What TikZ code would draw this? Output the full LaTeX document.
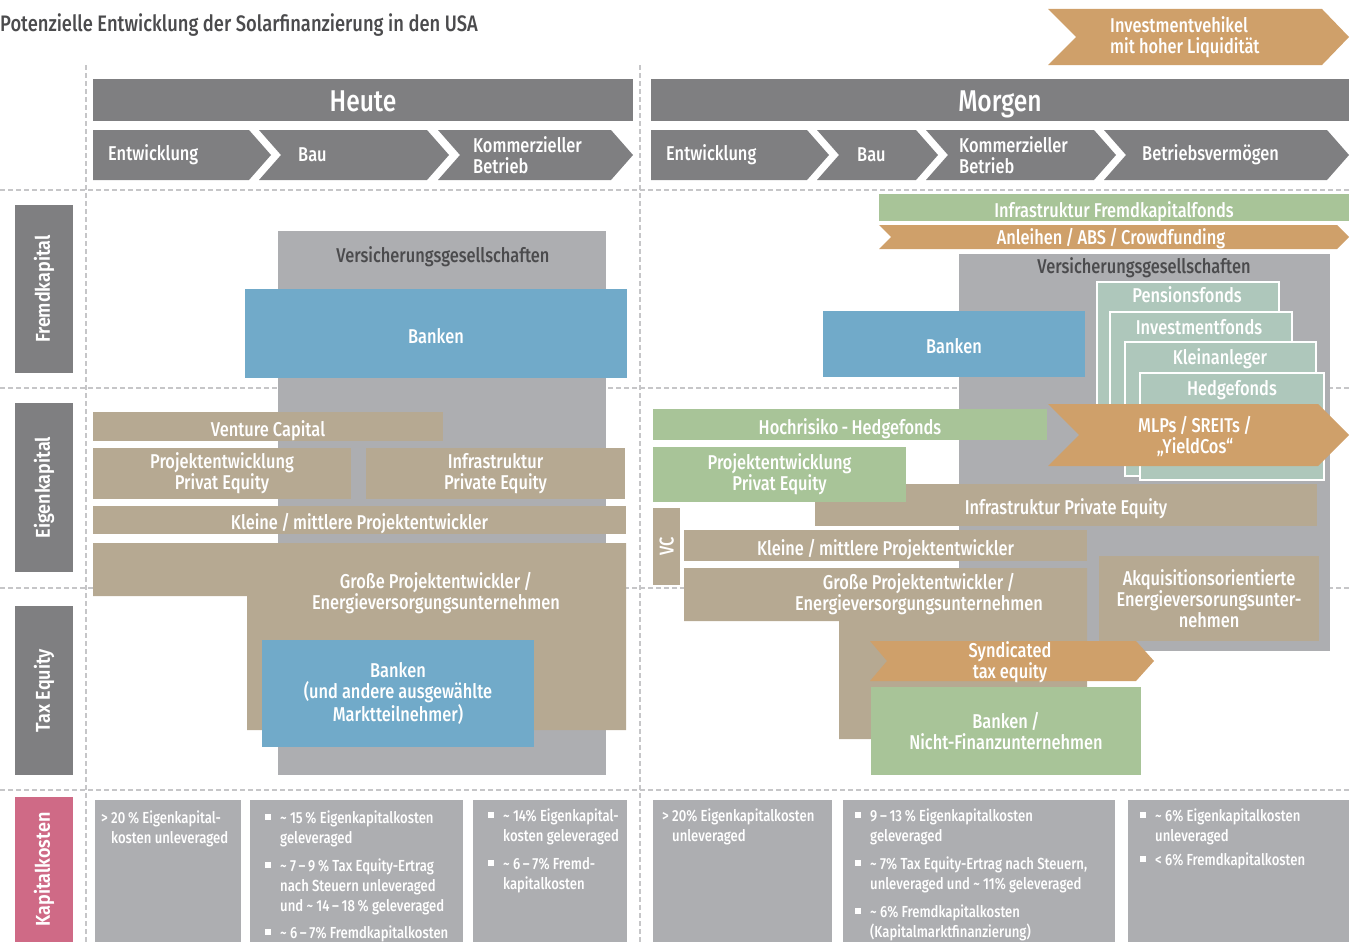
\documentclass[tikz,border=0pt]{standalone}
\usepackage{fontspec}
\setmainfont{Fira Sans}[FakeStretch=0.82,UprightFont={* Medium},BoldFont={* Bold}]
\newfontfamily\rowfont{Fira Sans}[FakeStretch=0.9,UprightFont={* SemiBold}]
\usepackage{tikz}

\definecolor{dunkelgrau}{HTML}{7F7F81}
\definecolor{hellgrau}{HTML}{ADAEB1}
\definecolor{blau}{HTML}{71AAC9}
\definecolor{sand}{HTML}{B6A992}
\definecolor{gruen}{HTML}{A8C498}
\definecolor{ocker}{HTML}{CFA06A}
\definecolor{mint}{HTML}{AEC7BB}
\definecolor{rosa}{HTML}{CF6A86}
\definecolor{strich}{HTML}{C6C6C8}
\definecolor{schrift}{HTML}{4B4B4D}

% bullets for the cost boxes
\newcommand{\kkbullet}{\makebox[15pt][l]{\rule[3pt]{6pt}{6pt}}}
\newcommand{\kkgt}{\makebox[10pt][l]{>}}
\newcommand{\ca}{\textasciitilde\ }

\begin{document}
\begin{tikzpicture}[x=1pt,y=-1pt]
            % Define styles
            \tikzstyle{boxm} = [anchor=north west,inner sep=0,outer sep=0,align=center,text=white,font=\fontsize{20}{21}\selectfont]
            \tikzstyle{box} = [boxm,text height=19pt,text depth=0pt]
            \tikzstyle{txtm} = [inner sep=0,align=center,text=white,font=\fontsize{20}{21}\selectfont,yshift=-1.5pt]
            \tikzstyle{txt} = [inner sep=0,text=white,font=\fontsize{20}{21}\selectfont,text height=14pt,text depth=0pt]
            \tikzstyle{phasetext} = [anchor=west,inner sep=0,align=left,text=white,font=\fontsize{20}{21}\selectfont]
            \tikzstyle{head} = [box,fill=dunkelgrau,minimum height=42pt,font=\fontsize{30}{30}\selectfont,text height=23pt]
            \tikzstyle{rowlabel} = [rotate=90,fill=dunkelgrau,inner sep=0,minimum height=58pt,text=white,font=\fontsize{20}{22}\rowfont]
            \tikzstyle{stack} = [anchor=north west,inner sep=0,fill=mint,draw=white,line width=2pt]
            \tikzstyle{kktext} = [anchor=north west,inner sep=0,text=white,align=left,font=\fontsize{16}{20}\selectfont]
            \tikzstyle{grid} = [strich,line width=1.2pt,dash pattern=on 5pt off 3pt]
            \useasboundingbox (0,0) rectangle (1356,942);
            % Dashed grid
                \draw [grid] (0,190) -- (1349,190);
                \draw [grid] (0,388) -- (1349,388);
                \draw [grid] (0,588) -- (1349,588);
                \draw [grid] (0,790) -- (1349,790);
                \draw [grid] (86,65) -- (86,942);
                \draw [grid] (640,65) -- (640,942);
            % Title
            \node (titel) at (0,25) [anchor=west,inner sep=0,text=schrift,font=\fontsize{22.4}{24}\selectfont]{Potenzielle Entwicklung der Solarfinanzierung in den USA};
            % Row labels
                \node (fremd) at (44,289) [rowlabel,minimum width=168pt]{Fremdkapital};
                \node (eigen) at (44,487.5) [rowlabel,minimum width=169pt]{Eigenkapital};
                \node (taxeq) at (44,690.5) [rowlabel,minimum width=169pt]{Tax Equity};
                \node (kosten) at (44,869.5) [rowlabel,minimum width=145pt,fill=rosa]{Kapitalkosten};
            % Headers
                \node (heute) at (93,79) [head,minimum width=540pt]{Heute};
                \node (morgen) at (651,79) [head,minimum width=698pt]{Morgen};
            % Phases
                % Heute
                \fill [dunkelgrau] (93,130) -- (249,130) -- (271,155) -- (249,180) -- (93,180) -- cycle;
                \fill [dunkelgrau] (259,130) -- (427,130) -- (449,155) -- (427,180) -- (259,180) -- (281,155) -- cycle;
                \fill [dunkelgrau] (438,130) -- (611,130) -- (633,155) -- (611,180) -- (438,180) -- (460,155) -- cycle;
                \node (hEntw) at (108,155) [phasetext]{Entwicklung};
                \node (hBau) at (298,155) [phasetext]{Bau};
                \node (hKomm) at (473,155) [phasetext]{Kommerzieller\\Betrieb};
                % Morgen
                \fill [dunkelgrau] (651,130) -- (807,130) -- (829,155) -- (807,180) -- (651,180) -- cycle;
                \fill [dunkelgrau] (817,130) -- (916,130) -- (938,155) -- (916,180) -- (817,180) -- (839,155) -- cycle;
                \fill [dunkelgrau] (926,130) -- (1094,130) -- (1116,155) -- (1094,180) -- (926,180) -- (948,155) -- cycle;
                \fill [dunkelgrau] (1104,130) -- (1327,130) -- (1349,155) -- (1327,180) -- (1104,180) -- (1126,155) -- cycle;
                \node (mEntw) at (666,155) [phasetext]{Entwicklung};
                \node (mBau) at (857,155) [phasetext]{Bau};
                \node (mKomm) at (959,155) [phasetext]{Kommerzieller\\Betrieb};
                \node (mBetr) at (1142,155) [phasetext]{Betriebsvermögen};
                % Liquid vehicles
                \fill [ocker] (1048,9) -- (1322,9) -- (1349,37) -- (1322,65) -- (1048,65) -- (1076,37) -- cycle;
                \node (invest) at (1110,37) [phasetext]{Investmentvehikel\\mit hoher Liquidität};
            % Heute
                \node (versH) at (278,231) [box,fill=hellgrau,minimum width=328pt,minimum height=544pt]{};
                \node (versHt) at (443,255) [txt,text=schrift]{Versicherungsgesellschaften};
                \node (bankH) at (245,289) [box,fill=blau,minimum width=382pt,minimum height=89pt]{Banken};
                \node (vcH) at (93,412) [box,fill=sand,minimum width=350pt,minimum height=29pt]{Venture Capital};
                \node (pepH) at (93,448) [boxm,fill=sand,minimum width=258pt,minimum height=51pt]{Projektentwicklung\\Privat Equity};
                \node (infH) at (366,448) [boxm,fill=sand,minimum width=259pt,minimum height=51pt]{Infrastruktur\\Private Equity};
                \node (kleinH) at (93,506) [box,fill=sand,minimum width=533pt,minimum height=28pt]{Kleine\,/\,mittlere Projektentwickler};
                \fill [sand] (93,543) -- (626,543) -- (626,730) -- (247,730) -- (247,596) -- (93,596) -- cycle;
                \node (grossH) at (436,592) [txtm]{Große Projektentwickler\,/\\Energieversorgungsunternehmen};
                \node (bankTE) at (262,640) [boxm,fill=blau,minimum width=272pt,minimum height=107pt]{Banken\\(und andere ausgewählte\\Marktteilnehmer)};
            % Morgen
                \node (versM) at (959,254) [box,fill=hellgrau,minimum width=371pt,minimum height=397pt]{};
                \node (versMt) at (1144,266) [txt,text=schrift]{Versicherungsgesellschaften};
                \node (ifk) at (879,194) [box,fill=gruen,minimum width=470pt,minimum height=27pt]{Infrastruktur Fremdkapitalfonds};
                \fill [ocker] (879,225) -- (1337,225) -- (1349,237) -- (1337,249) -- (879,249) -- (891,237) -- cycle;
                \node (anl) at (1111,237) [txt]{Anleihen\,/\,ABS\,/\,Crowdfunding};
                % Stacked investors
                \node (pens) at (1096,281) [stack,minimum width=182pt,minimum height=179pt]{};
                \node (pensT) at (1187,295) [txt]{Pensionsfonds};
                \node (invf) at (1109,311) [stack,minimum width=182pt,minimum height=152pt]{};
                \node (invfT) at (1199,327) [txt]{Investmentfonds};
                \node (kleinA) at (1124,341) [stack,minimum width=191pt,minimum height=134pt]{};
                \node (kleinAT) at (1220,357) [txt]{Kleinanleger};
                \node (hedge) at (1139,372) [stack,minimum width=184pt,minimum height=107pt]{};
                \node (hedgeT) at (1232,388) [txt]{Hedgefonds};
                \node (bankM) at (823,311) [box,fill=blau,minimum width=262pt,minimum height=66pt]{Banken};
                \node (hochr) at (653,409) [box,fill=gruen,minimum width=394pt,minimum height=31pt]{Hochrisiko\,-\,Hedgefonds};
                \fill [ocker] (1048,404) -- (1318,404) -- (1349,435) -- (1318,466) -- (1048,466) -- (1079,435) -- cycle;
                \node (mlp) at (1195,435) [txtm]{MLPs\,/\,SREITs\,/\\„YieldCos“};
                \node (infM) at (815,484) [box,fill=sand,minimum width=502pt,minimum height=42pt]{Infrastruktur Private Equity};
                \node (pepM) at (653,447) [boxm,fill=gruen,minimum width=253pt,minimum height=55pt]{Projektentwicklung\\Privat Equity};
                \node (vcM) at (653,508) [box,fill=sand,minimum width=27pt,minimum height=77pt]{};
                \node (vcMT) at (666.5,546) [txt,rotate=90]{VC};
                \node (kleinM) at (684,530) [box,fill=sand,minimum width=403pt,minimum height=31pt]{Kleine\,/\,mittlere Projektentwickler};
                \fill [sand] (684,568) -- (1087,568) -- (1087,739) -- (839,739) -- (839,621) -- (684,621) -- cycle;
                \node (grossM) at (919,593) [txtm]{Große Projektentwickler\,/\\Energieversorgungsunternehmen};
                \node (akq) at (1099,556) [boxm,fill=sand,minimum width=220pt,minimum height=85pt]{Akquisitionsorientierte\\Energieversorungsunter-\\nehmen};
                \fill [ocker] (870,641) -- (1136,641) -- (1154,661) -- (1136,681) -- (870,681) -- (887,661) -- cycle;
                \node (synd) at (1010,661) [txtm]{Syndicated\\tax equity};
                \node (bankNF) at (871,687) [boxm,fill=gruen,minimum width=270pt,minimum height=88pt]{Banken\,/\\Nicht-Finanzunternehmen};
            % Cost of capital
                \node (kk1) at (95,800) [box,fill=hellgrau,minimum width=146pt,minimum height=142pt]{};
                \node (kk2) at (250,800) [box,fill=hellgrau,minimum width=213pt,minimum height=142pt]{};
                \node (kk3) at (473,800) [box,fill=hellgrau,minimum width=154pt,minimum height=142pt]{};
                \node (kk4) at (653,800) [box,fill=hellgrau,minimum width=179pt,minimum height=142pt]{};
                \node (kk5) at (843,800) [box,fill=hellgrau,minimum width=272pt,minimum height=142pt]{};
                \node (kk6) at (1128,800) [box,fill=hellgrau,minimum width=221pt,minimum height=142pt]{};
                \node (kk1T) at (101,809) [kktext]{\begin{tabular}{@{}l@{}l@{}}\kkgt & 20\,\% Eigenkapital-\\ & kosten unleveraged\end{tabular}};
                \node (kk2T) at (265,809) [kktext]{\begin{tabular}{@{}l@{}l@{}}\kkbullet & \ca 15\,\% Eigenkapitalkosten\\ & geleveraged\\[8pt] \kkbullet & \ca 7\,--\,9\,\% Tax Equity-Ertrag\\ & nach Steuern unleveraged\\ & und \ca 14\,--\,18\,\% geleveraged\\[7pt] \kkbullet & \ca 6\,--\,7\% Fremdkapitalkosten\end{tabular}};
                \node (kk3T) at (488,807) [kktext]{\begin{tabular}{@{}l@{}l@{}}\kkbullet & \ca 14\% Eigenkapital-\\ & kosten geleveraged\\[8pt] \kkbullet & \ca 6\,--\,7\% Fremd-\\ & kapitalkosten\end{tabular}};
                \node (kk4T) at (662,807) [kktext]{\begin{tabular}{@{}l@{}l@{}}\kkgt & 20\% Eigenkapitalkosten\\ & unleveraged\end{tabular}};
                \node (kk5T) at (855,807) [kktext]{\begin{tabular}{@{}l@{}l@{}}\kkbullet & 9\,--\,13\,\% Eigenkapitalkosten\\ & geleveraged\\[8pt] \kkbullet & \ca 7\% Tax Equity-Ertrag nach Steuern,\\ & unleveraged und \ca 11\% geleveraged\\[8pt] \kkbullet & \ca 6\% Fremdkapitalkosten\\ & (Kapitalmarktfinanzierung)\end{tabular}};
                \node (kk6T) at (1140,807) [kktext]{\begin{tabular}{@{}l@{}l@{}}\kkbullet & \ca 6\% Eigenkapitalkosten\\ & unleveraged\\[4pt] \kkbullet & < 6\% Fremdkapitalkosten\end{tabular}};
\end{tikzpicture}
\end{document}
